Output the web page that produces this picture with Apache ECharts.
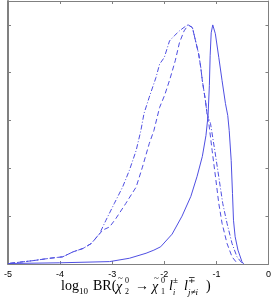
<!DOCTYPE html>
<html><head><meta charset="utf-8">
<script src="https://cdn.jsdelivr.net/npm/echarts@6/dist/echarts.min.js"></script>
<style>html,body{margin:0;padding:0;background:#fff}#c{width:274px;height:300px}</style>
</head><body><div id="c"></div>
<script>
// x values: log10 BR ; y values: normalized distribution
const solidX = [-5.00,-4.01,-3.05,-2.67,-2.35,-2.20,-2.07,-1.85,-1.66,-1.49,-1.37,-1.27,-1.20,-1.16,-1.135,-1.12,-1.10,-1.07,-1.02,-0.954,-0.891,-0.826,-0.782,-0.754,-0.716,-0.691,-0.672,-0.640,-0.586,-0.510,-0.477];
const solidY = [0.002,0.005,0.010,0.024,0.045,0.058,0.072,0.125,0.200,0.283,0.367,0.450,0.538,0.621,0.746,0.871,0.967,1.000,0.963,0.864,0.767,0.671,0.621,0.558,0.433,0.295,0.183,0.114,0.058,0.010,0.000];

const dashedX = [-4.96,-4.52,-4.20,-3.95,-3.75,-3.56,-3.40,-3.18,-3.05,-2.93,-2.74,-2.54,-2.42,-2.29,-2.20,-2.09,-1.99,-1.89,-1.79,-1.71,-1.62,-1.54,-1.46,-1.40,-1.34,-1.30,-1.27,-1.21,-1.18,-1.145,-1.082,-1.017,-0.954,-0.891,-0.796,-0.700,-0.605];
const dashedY = [0.003,0.014,0.024,0.030,0.051,0.065,0.086,0.142,0.155,0.190,0.253,0.322,0.405,0.503,0.558,0.655,0.708,0.775,0.850,0.925,0.975,1.000,0.989,0.933,0.878,0.822,0.767,0.683,0.629,0.588,0.475,0.364,0.253,0.170,0.086,0.030,0.004];

const dashDotX = [-4.96,-4.52,-4.20,-3.95,-3.75,-3.56,-3.40,-3.24,-3.12,-2.96,-2.80,-2.67,-2.54,-2.45,-2.39,-2.29,-2.16,-2.09,-2.00,-1.90,-1.81,-1.71,-1.62,-1.55,-1.46,-1.40,-1.34,-1.30,-1.27,-1.21,-1.18,-1.113,-1.031,-0.954,-0.878,-0.796,-0.700,-0.605,-0.510];
const dashDotY = [0.003,0.014,0.024,0.030,0.051,0.065,0.086,0.128,0.183,0.253,0.322,0.392,0.475,0.558,0.629,0.697,0.780,0.836,0.864,0.933,0.954,0.975,0.990,1.000,0.989,0.933,0.878,0.822,0.767,0.683,0.629,0.588,0.475,0.364,0.253,0.170,0.086,0.030,0.004];

const xTicks = [-5,-4,-3,-2,-1,0];

const pair = (xs, ys) => xs.map((x, i) => [x, ys[i]]);
const lineColor = '#4f4fe2';
const axisGray = '#808080';

const chart = echarts.init(document.getElementById('c'));
const baseX = {
  type: 'value', min: xTicks[0], max: xTicks[xTicks.length-1], interval: 1,
  axisLine: {show: true, onZero: false, lineStyle: {color: axisGray, width: 1}},
  axisTick: {show: true, inside: true, length: 3, lineStyle: {color: axisGray}},
  splitLine: {show: false}
};
const baseY = {
  type: 'value', min: 0, max: 1.1, interval: 0.2,
  axisLine: {show: true, onZero: false, lineStyle: {color: axisGray, width: 1}},
  axisTick: {show: true, inside: true, length: 3, lineStyle: {color: axisGray}},
  axisLabel: {show: false},
  splitLine: {show: false}
};
const serif = '"Liberation Serif","DejaVu Serif",serif';
const T = (text, x, y, size, italic) => ({
  type: 'text', x: x, y: y, silent: true,
  style: {text: text, x: 0, y: 0, fill: '#000', font: (italic ? 'italic ' : '') + size + 'px ' + serif, verticalAlign: 'middle', align: 'left'}
});
const MY = 286, SUP = 281, SUB = 292;

chart.setOption({
  animation: false,
  grid: {left: 8, right: 3, top: 1, bottom: 36, containLabel: false},
  xAxis: [
    Object.assign({}, baseX, {position: 'bottom',
      axisLabel: {show: true, color: '#000', fontSize: 9, fontFamily: '"Liberation Sans",Arial,sans-serif', margin: 6,
        formatter: v => xTicks.includes(v) ? (v < 0 ? '-' + Math.abs(v) : String(v)) : ''}}),
    Object.assign({}, baseX, {position: 'top', axisLabel: {show: false}})
  ],
  yAxis: [
    Object.assign({}, baseY, {position: 'left', axisLine: {show: true, onZero: false, lineStyle: {color: axisGray, width: 2}}}),
    Object.assign({}, baseY, {position: 'right'})
  ],
  series: [
    {type: 'line', data: pair(solidX, solidY), showSymbol: false, symbol: 'none',
      lineStyle: {color: lineColor, width: 1, type: 'solid'}},
    {type: 'line', data: pair(dashedX, dashedY), showSymbol: false, symbol: 'none',
      lineStyle: {color: lineColor, width: 1, type: [5, 3]}},
    {type: 'line', data: pair(dashDotX, dashDotY), showSymbol: false, symbol: 'none',
      lineStyle: {color: lineColor, width: 1, type: [5, 2, 1, 2]}}
  ],
  graphic: [
    T('log', 61, MY, 14, false),
    T('10', 79, SUB, 9, false),
    T('BR(', 93, MY, 14, false),
    T('\u03C7', 116, MY + 1, 14, true),
    T('~', 118, 279, 9, false),
    T('0', 125, SUP, 8, false),
    T('2', 125, SUB, 8, false),
    T('\u2192', 135, MY, 14, false),
    T('\u03C7', 152, MY + 1, 14, true),
    T('~', 154, 279, 9, false),
    T('0', 161, SUP, 8, false),
    T('1', 161, SUB, 8, false),
    T('l', 169, MY, 14, true),
    T('\u00B1', 173, SUP, 9, false),
    T('i', 173, SUB + 1, 8, true),
    T('l', 184, MY, 14, true),
    T('\u2213', 188, SUP, 9, false),
    T('j\u2260i', 188, SUB + 1, 9, true),
    T(')', 206, MY, 14, false)
  ]
});
</script></body></html>
